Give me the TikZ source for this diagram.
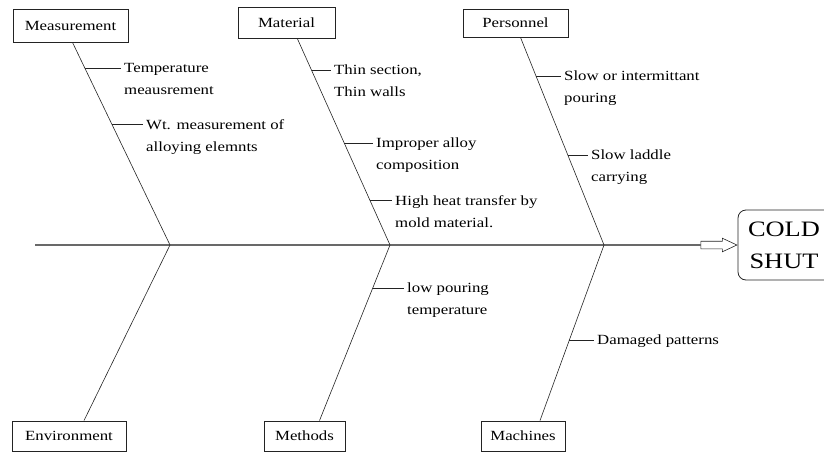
\documentclass[tikz,border=0pt]{standalone}
\usepackage{fontspec}
\setmainfont{Liberation Serif}[FakeStretch=1.2]
\usetikzlibrary{calc, positioning, shapes.arrows}
\definecolor{ink}{RGB}{35,35,35}
\definecolor{spinegray}{RGB}{105,105,105}
\newcommand{\causefont}{\fontsize{14}{22}\selectfont}
\newcommand{\headfont}{\fontsize{22}{32}\selectfont}
\tikzset{
  catbox/.style={draw=ink, line width=0.9pt, minimum height=30pt, inner sep=0pt, font=\causefont},
  cause/.style={font=\causefont, align=left, inner sep=0pt, anchor=north west},
  bone/.style={ink, line width=0.6pt},
  tick/.style={ink, line width=0.6pt, shorten >=3pt},
  spine/.style={spinegray, line width=1.4pt},
  effect/.style={draw=ink, line width=0.8pt, rounded corners=8pt, align=center,
    minimum width=100pt, minimum height=70pt, inner sep=0pt, font=\headfont},
  fatarrow/.style={single arrow, draw=ink, line width=0.6pt, inner sep=3.5pt,
    minimum height=36pt, single arrow head extend=3pt, single arrow tip angle=50}
}

\begin{document}
\begin{tikzpicture}[x=1pt, y=-1pt]
  \useasboundingbox (0,0) rectangle (824,455);

  % head and spine
  \node[effect] (head) at (788,245) {\hspace*{-8pt}COLD\\\hspace*{-8pt}SHUT};
  \node[fatarrow, left=0pt of head] (arr) {};
  \coordinate (tail) at (35,245);
  \draw[spine] (tail) -- (arr.west);
  \coordinate (jmeas) at (170,245);
  \coordinate (jmat) at (390,245);
  \coordinate (jpers) at (604,245);

  % category boxes
  \node[catbox, minimum width=115pt, minimum height=33pt] (meas) at (70.5,25.5) {Measurement};
  \node[catbox, minimum width=97pt, minimum height=31pt] (mat) at (286.5,23) {Material};
  \node[catbox, minimum width=105pt, minimum height=28pt] (pers) at (515.5,23) {Personnel};
  \node[catbox, minimum width=114pt] (env) at (69,436) {Environment};
  \node[catbox, minimum width=81pt] (meth) at (304.5,436) {Methods};
  \node[catbox, minimum width=84pt] (mach) at (523,436) {Machines};

  % bones
  \draw[bone] ([xshift=2pt]meas.south) -- (jmeas);
  \draw[bone] ([xshift=11pt]mat.south) -- (jmat);
  \draw[bone] ([xshift=5pt]pers.south) -- (jpers);
  \draw[bone] (jmeas) -- ([xshift=15pt]env.north);
  \draw[bone] (jmat) -- ([xshift=15pt]meth.north);
  \draw[bone] (jpers) -- ([xshift=17pt]mach.north);

  % Measurement causes
  \coordinate (tm1) at ($([xshift=2pt]meas.south)!0.128!(jmeas)$);
  \coordinate (tm2) at ($([xshift=2pt]meas.south)!0.404!(jmeas)$);
  \node[cause] (cm1) at (124,63) {Temperature\\meausrement};
  \node[cause] (cm2) at (146,119) {Wt. measurement of\\alloying elemnts};
  \draw[tick] (tm1) -- (cm1.west |- tm1);
  \draw[tick] (tm2) -- (cm2.west |- tm2);

  % Material causes
  \coordinate (ta1) at ($([xshift=11pt]mat.south)!0.153!(jmat)$);
  \coordinate (ta2) at ($([xshift=11pt]mat.south)!0.506!(jmat)$);
  \coordinate (ta3) at ($([xshift=11pt]mat.south)!0.782!(jmat)$);
  \node[cause] (ca1) at (334,65) {Thin section,\\Thin walls};
  \node[cause] (ca2) at (376,138) {Improper alloy\\composition};
  \node[cause] (ca3) at (395,195) {High heat transfer by\\mold material.};
  \draw[tick] (ta1) -- (ca1.west |- ta1);
  \draw[tick] (ta2) -- (ca2.west |- ta2);
  \draw[tick] (ta3) -- (ca3.west |- ta3);

  % Personnel causes
  \coordinate (tp1) at ($([xshift=5pt]pers.south)!0.1875!(jpers)$);
  \coordinate (tp2) at ($([xshift=5pt]pers.south)!0.567!(jpers)$);
  \node[cause] (cp1) at (564,71) {Slow or intermittant\\pouring};
  \node[cause] (cp2) at (591,150) {Slow laddle\\carrying};
  \draw[tick] (tp1) -- (cp1.west |- tp1);
  \draw[tick] (tp2) -- (cp2.west |- tp2);

  % Methods and Machines causes
  \coordinate (th1) at ($(jmat)!0.244!([xshift=15pt]meth.north)$);
  \coordinate (tc1) at ($(jpers)!0.54!([xshift=17pt]mach.north)$);
  \node[cause] (ch1) at (407,283) {low pouring\\temperature};
  \node[cause] (cc1) at (597,335) {Damaged patterns};
  \draw[tick] (th1) -- (ch1.west |- th1);
  \draw[tick] (tc1) -- (cc1.west |- tc1);
\end{tikzpicture}
\end{document}
